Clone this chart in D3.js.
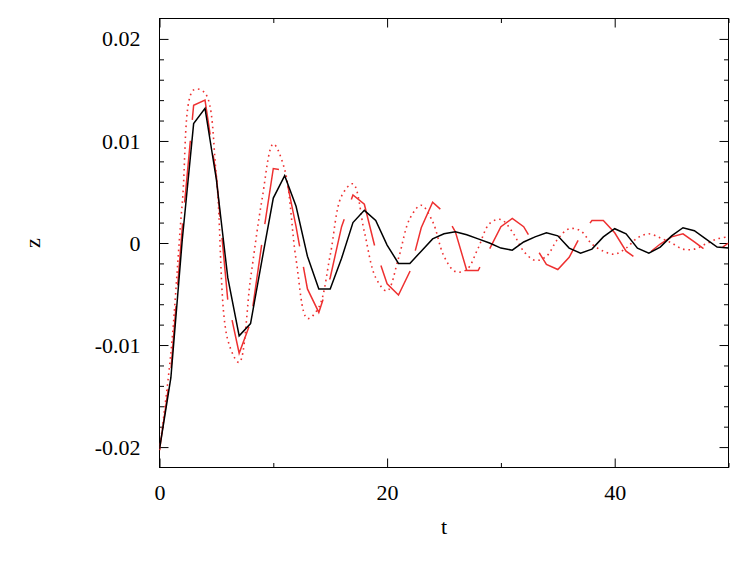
<!DOCTYPE html>
<html>
<head>
<meta charset="utf-8">
<script src="https://cdn.jsdelivr.net/npm/d3@7"></script>
<style>
  body { margin: 0; background: #fff; }
  svg { display: block; }
</style>
</head>
<body>
<svg id="chart" width="747" height="561"></svg>
<script>
// time steps
var tValues = [0,1,2,3,4,5,6,7,8,9,10,11,12,13,14,15,16,17,18,19,20,
  21,22,23,24,25,26,27,28,29,30,31,32,33,34,35,36,37,38,39,40,
  41,42,43,44,45,46,47,48,49,50];

// black solid series
var zBlack = [-0.0202,-0.0132,0.0003,0.0117,0.0132,0.0062,-0.0034,-0.0091,-0.0079,-0.0017,0.0044,
  0.0066,0.0036,-0.0013,-0.0045,-0.0045,-0.0015,0.0020,0.0032,0.0022,-0.0002,
  -0.0020,-0.0020,-0.0008,0.0004,0.0009,0.0011,0.0008,0.0004,0.0000,-0.0005,
  -0.0007,0.0001,0.0006,0.0010,0.0007,-0.0005,-0.0010,-0.0006,0.0006,0.0014,
  0.0009,-0.0005,-0.0010,-0.0004,0.0007,0.0015,0.0012,0.0004,-0.0004,-0.0005];

// red dashed series
var zDashed = [-0.0203,-0.0125,0.0015,0.0135,0.0140,0.0065,-0.0056,-0.0108,-0.0078,0.0000,0.0073,
  0.0071,0.0016,-0.0045,-0.0068,-0.0034,0.0016,0.0047,0.0038,-0.0007,-0.0040,
  -0.0051,-0.0028,0.0015,0.0040,0.0030,0.0011,-0.0027,-0.0027,-0.0006,0.0016,
  0.0024,0.0016,-0.0003,-0.0021,-0.0026,-0.0014,0.0007,0.0022,0.0022,0.0010,
  -0.0008,-0.0016,-0.0010,-0.0001,0.0006,0.0009,0.0001,-0.0007,-0.0008,0.0000];

// red dotted series
var zDotted = [-0.0203,-0.0108,0.0039,0.0150,0.0147,0.0065,-0.0095,-0.0117,-0.0035,0.0042,0.0097,
  0.0072,-0.0016,-0.0074,-0.0063,-0.0012,0.0046,0.0058,0.0011,-0.0034,-0.0047,
  -0.0015,0.0024,0.0037,0.0021,-0.0013,-0.0028,-0.0026,-0.0005,0.0019,0.0023,
  0.0011,-0.0008,-0.0017,-0.0013,0.0004,0.0014,0.0012,-0.0001,-0.0008,-0.0011,
  -0.0005,0.0005,0.0009,0.0005,0.0000,-0.0006,-0.0006,-0.0001,0.0004,0.0006];

// ticks
var xMajorTicks = [0, 20, 40];
var xMajorLabels = ["0", "20", "40"];
var xMinorTicks = [10, 30, 50];
var yMajorTicks = [-0.02, -0.01, 0, 0.01, 0.02];
var yMajorLabels = ["-0.02", "-0.01", "0", "0.01", "0.02"];
var yMinorTicks = [-0.018,-0.016,-0.014,-0.012,-0.008,-0.006,-0.004,-0.002,
  0.002,0.004,0.006,0.008,0.012,0.014,0.016,0.018];

var svg = d3.select("#chart");
var plotLeft = 159.5, plotRight = 728.5, plotTop = 18.5, plotBottom = 467.5;

var x = d3.scaleLinear().domain([0, 50]).range([plotLeft, plotRight]);
var y = d3.scaleLinear().domain([-0.022, 0.022]).range([plotBottom, plotTop]);

var serif = "'Liberation Serif', 'Times New Roman', serif";
var red = "#ee3030";

function styleAxis(g) {
  g.select(".domain").remove();
  g.selectAll("line").attr("stroke", "#000").attr("stroke-width", 1);
  g.attr("font-family", serif).attr("font-size", 22);
  g.selectAll("text").attr("fill", "#000");
}

// bottom axis
svg.append("g")
  .attr("transform", "translate(0," + plotBottom + ")")
  .call(d3.axisBottom(x).tickValues(xMajorTicks).tickSize(-9).tickPadding(17)
    .tickFormat(function(d, i) { return xMajorLabels[i]; }))
  .call(styleAxis);
svg.append("g")
  .attr("transform", "translate(0," + plotBottom + ")")
  .call(d3.axisBottom(x).tickValues(xMinorTicks).tickSize(-4.5).tickFormat(""))
  .call(styleAxis);
// top axis (mirror)
svg.append("g")
  .attr("transform", "translate(0," + plotTop + ")")
  .call(d3.axisTop(x).tickValues(xMajorTicks).tickSize(-9).tickFormat(""))
  .call(styleAxis);
svg.append("g")
  .attr("transform", "translate(0," + plotTop + ")")
  .call(d3.axisTop(x).tickValues(xMinorTicks).tickSize(-4.5).tickFormat(""))
  .call(styleAxis);

// left axis
svg.append("g")
  .attr("transform", "translate(" + plotLeft + ",0)")
  .call(d3.axisLeft(y).tickValues(yMajorTicks).tickSize(-9).tickPadding(19)
    .tickFormat(function(d, i) { return yMajorLabels[i]; }))
  .call(styleAxis);
svg.append("g")
  .attr("transform", "translate(" + plotLeft + ",0)")
  .call(d3.axisLeft(y).tickValues(yMinorTicks).tickSize(-4.5).tickFormat(""))
  .call(styleAxis);
// right axis (mirror)
svg.append("g")
  .attr("transform", "translate(" + plotRight + ",0)")
  .call(d3.axisRight(y).tickValues(yMajorTicks).tickSize(-9).tickFormat(""))
  .call(styleAxis);
svg.append("g")
  .attr("transform", "translate(" + plotRight + ",0)")
  .call(d3.axisRight(y).tickValues(yMinorTicks).tickSize(-4.5).tickFormat(""))
  .call(styleAxis);

// plot border
svg.append("rect")
  .attr("x", plotLeft).attr("y", plotTop)
  .attr("width", plotRight - plotLeft).attr("height", plotBottom - plotTop)
  .attr("fill", "none").attr("stroke", "#000").attr("stroke-width", 1);

// axis titles
svg.append("text")
  .text("t")
  .attr("x", (plotLeft + plotRight) / 2)
  .attr("y", 534)
  .attr("text-anchor", "middle")
  .attr("font-family", serif)
  .attr("font-size", 22);

svg.append("text")
  .text("z")
  .attr("transform", "translate(40," + y(0) + ") rotate(-90)")
  .attr("text-anchor", "middle")
  .attr("font-family", serif)
  .attr("font-size", 22);

// series
svg.append("clipPath").attr("id", "plotclip")
  .append("rect")
  .attr("x", plotLeft).attr("y", plotTop)
  .attr("width", plotRight - plotLeft).attr("height", plotBottom - plotTop);

var plot = svg.append("g").attr("clip-path", "url(#plotclip)");

var lineLinear = d3.line()
  .x(function(d) { return x(d[0]); })
  .y(function(d) { return y(d[1]); });

var lineSmooth = d3.line()
  .curve(d3.curveCatmullRom)
  .x(function(d) { return x(d[0]); })
  .y(function(d) { return y(d[1]); });

plot.append("path")
  .datum(d3.zip(tValues, zDotted))
  .attr("d", lineSmooth)
  .attr("fill", "none")
  .attr("stroke", red)
  .attr("stroke-width", 1.6)
  .attr("stroke-dasharray", "1.6 3.8");

plot.append("path")
  .datum(d3.zip(tValues, zDashed))
  .attr("d", lineLinear)
  .attr("fill", "none")
  .attr("stroke", red)
  .attr("stroke-width", 1.5)
  .attr("stroke-dasharray", "62 21");

plot.append("path")
  .datum(d3.zip(tValues, zBlack))
  .attr("d", lineLinear)
  .attr("fill", "none")
  .attr("stroke", "#000")
  .attr("stroke-width", 1.5);
</script>
</body>
</html>
